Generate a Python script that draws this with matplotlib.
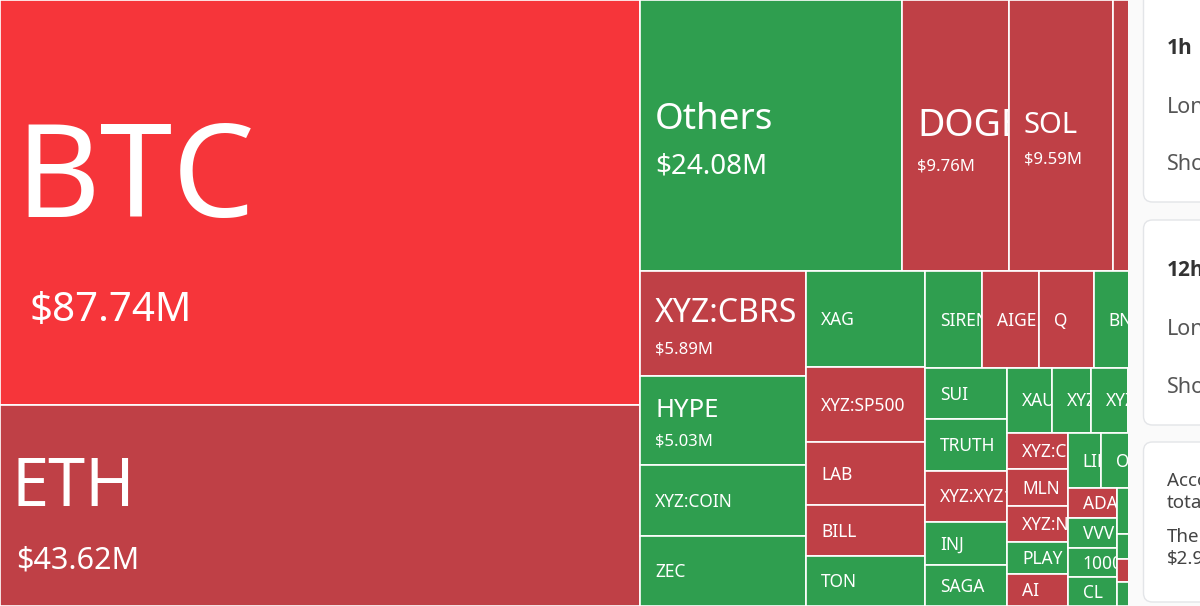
import matplotlib
matplotlib.use("Agg")
import matplotlib.pyplot as plt
from matplotlib.patches import Rectangle, FancyBboxPatch
from matplotlib.transforms import Bbox, TransformedBbox

plt.rcParams['font.family'] = ['Noto Sans', 'DejaVu Sans']

# ---------------- data (liquidations, $M) ----------------
names = ["BTC", "ETH", "Others", "DOGE", "SOL", "XRP", "XYZ:CBRS", "HYPE",
         "XYZ:COIN", "ZEC", "XAG", "XYZ:SP500", "LAB", "BILL", "TON",
         "SIREN", "AIGENSYN", "Q", "BNB", "AVAX",
         "SUI", "TRUTH", "XYZ:XYZ100", "INJ", "SAGA",
         "XAUT", "XYZ:TSLA", "XYZ:GOLD", "XYZ:AMZN", "XYZ:META",
         "XYZ:CRCL", "MLN", "XYZ:NVDA", "PLAY", "AI",
         "LINK", "ONDO", "ENA", "PUMP",
         "ADA", "VVV", "1000PEPE", "CL",
         "BCH", "LTC", "WLD",
         "TAO", "FARTCOIN", "APT",
         "ARB", "SEI", "TIA", "NEAR", "AAVE", "UNI", "OP", "PENGU"]
values = [87.74, 43.62, 24.08, 9.76, 9.59, 7.98, 5.89, 5.03,
          4.00, 3.93, 3.85, 3.05, 2.53, 2.05, 2.03,
          1.87, 1.84, 1.81, 1.75, 1.73,
          1.43, 1.42, 1.41, 1.20, 1.14,
          0.98, 0.87, 0.81, 0.80, 0.78,
          0.75, 0.75, 0.74, 0.66, 0.66,
          0.62, 0.62, 0.62, 0.62,
          0.50, 0.50, 0.50, 0.48,
          0.45, 0.42, 0.42,
          0.26, 0.25, 0.25,
          0.20, 0.19, 0.18, 0.17, 0.16, 0.14, 0.12, 0.10]
sides = ["hot", "long", "short", "long", "long", "long", "long", "short",
         "short", "short", "short", "long", "long", "long", "short",
         "short", "long", "long", "short", "long",
         "short", "short", "long", "short", "short",
         "short", "short", "short", "long", "short",
         "long", "long", "long", "short", "long",
         "short", "short", "long", "short",
         "long", "short", "short", "short",
         "short", "long", "short",
         "short", "long", "short",
         "long", "short", "long", "short", "long", "short", "long", "short"]

card_titles = ["1h", "12h"]
card_rows = ["Long", "Short"]
note_lines = ["According", "total", "The", "$2.9"]

# ---------------- style ----------------
COLORS = {"hot": "#F6353A", "long": "#BF4046", "short": "#2F9E4F"}
BIG_FONTS = {"BTC": (94, 29), "ETH": (48, 22), "Others": (26.5, 20),
             "DOGE": (27, 12), "SOL": (21, 12), "XRP": (22, 12),
             "XYZ:CBRS": (23, 12), "HYPE": (18.5, 12)}
PADS = {"BTC": (15, 30), "ETH": (12, 16)}
SMALL_FS = 12.5
VALUE_MIN = 5.0
VISIBLE_RIGHT = 1128

W, H = 1200, 606


def squarify(vals, x, y, w, h, ratio=0.5 * (1 + 5 ** 0.5)):
    order = sorted(range(len(vals)), key=lambda i: -vals[i])
    total = float(sum(vals))
    area = {i: vals[i] / total * w * h for i in order}
    rect = {"x": x, "y": y, "w": w, "h": h}
    out = {}

    def worst(row, row_area, fixed):
        amax = max(area[i] for i in row)
        amin = min(area[i] for i in row)
        sq = row_area * row_area
        f = fixed * fixed * ratio
        return max(f * amax / sq, sq / (f * amin)) if sq else float("inf")

    def position(row, row_area, fixed, flush):
        horiz = fixed == rect["w"]
        other = row_area / fixed if fixed else 0
        avail = rect["h"] if horiz else rect["w"]
        if flush or other > avail:
            other = avail
        last = rect["x"] if horiz else rect["y"]
        end = last + (rect["w"] if horiz else rect["h"])
        for k, i in enumerate(row):
            step = area[i] / other if other else 0
            remain = end - last
            mod = remain if (k == len(row) - 1 or remain < step) else step
            if horiz:
                out[i] = (last, rect["y"], mod, other)
            else:
                out[i] = (rect["x"], last, other, mod)
            last += mod
        if horiz:
            rect["y"] += other
            rect["h"] -= other
        else:
            rect["x"] += other
            rect["w"] -= other

    row, row_area, best = [], 0.0, float("inf")
    fixed = min(w, h)
    k = 0
    while k < len(order):
        i = order[k]
        row.append(i)
        row_area += area[i]
        s = worst(row, row_area, fixed)
        if s <= best:
            k += 1
            best = s
        else:
            row.pop()
            row_area -= area[i]
            position(row, row_area, fixed, False)
            fixed = min(rect["w"], rect["h"])
            row, row_area, best = [], 0.0, float("inf")
    if row:
        position(row, row_area, fixed, True)
    return [out[i] for i in range(len(vals))]


fig = plt.figure(figsize=(12, 6.06), dpi=100)
ax = fig.add_axes([0, 0, 1, 1])
ax.set_xlim(0, W)
ax.set_ylim(H, 0)
ax.axis("off")

boxes = squarify(values, 0, 0, W, H)


def clip_to(t, x, y, w, h):
    # clip label to its own cell (and to the visible part of the treemap)
    x1 = min(x + w - 1, VISIBLE_RIGHT)
    bb = TransformedBbox(Bbox([[x, y], [max(x1, x), y + h]]), ax.transData)
    t.set_clip_box(bb)
    t.set_clip_on(True)


for name, val, side, (x, y, w, h) in zip(names, values, sides, boxes):
    rect = Rectangle((x, y), w, h, facecolor=COLORS[side], edgecolor="white",
                     linewidth=1.2, zorder=1)
    ax.add_patch(rect)
    if x + 15 >= VISIBLE_RIGHT:
        continue  # label lies entirely under the side panel
    cy = y + h / 2
    if val >= VALUE_MIN:
        c1, c2 = BIG_FONTS.get(name, (SMALL_FS, SMALL_FS))
        p1, p2 = PADS.get(name, (15, 15))
        nb = cy + 0.424 * c1 - 0.833 * c2 - 1
        vb = nb + 0.705 * c1 + 1.286 * c2
        t1 = ax.text(x + p1, nb, name, color="white", fontsize=c1,
                     va="baseline", ha="left", zorder=3)
        t2 = ax.text(x + p2, vb, f"${val:.2f}M", color="white", fontsize=c2,
                     va="baseline", ha="left", zorder=3)
        clip_to(t1, x, y, w, h)
        clip_to(t2, x, y, w, h)
    else:
        t = ax.text(x + 15, cy + 0.5 * SMALL_FS, name, color="white",
                    fontsize=SMALL_FS, va="baseline", ha="left", zorder=3)
        clip_to(t, x, y, w, h)

# ---------------- right side panel ----------------
ax.add_patch(Rectangle((VISIBLE_RIGHT, -5), 80, H + 10, facecolor="#FAFAFA",
                       edgecolor="none", zorder=20))
cards = [(-20, 202), (220, 425), (442, 602)]
for (y0, y1) in cards:
    ax.add_patch(FancyBboxPatch((1143.5, y0), 90, y1 - y0,
                                boxstyle="round,pad=0,rounding_size=9",
                                facecolor="white", edgecolor="#E3E5E8",
                                linewidth=1.0, zorder=21))

title_base = [54, 276]
row_base = [[113, 170], [335, 393]]
for ci in range(2):
    ax.text(1167, title_base[ci], card_titles[ci], fontsize=15, fontweight="bold",
            family=["Open Sans", "DejaVu Sans"],
            color="#333333", va="baseline", ha="left", zorder=22)
    for ri in range(2):
        ax.text(1167, row_base[ci][ri], card_rows[ri], fontsize=15.5,
                color="#555555", va="baseline", ha="left", zorder=22)

note_base = [486, 508, 542, 564]
for line, yb in zip(note_lines, note_base):
    ax.text(1167, yb, line, fontsize=13.5, color="#444444", va="baseline",
            ha="left", zorder=22)

fig.savefig("out.png", dpi=100)
